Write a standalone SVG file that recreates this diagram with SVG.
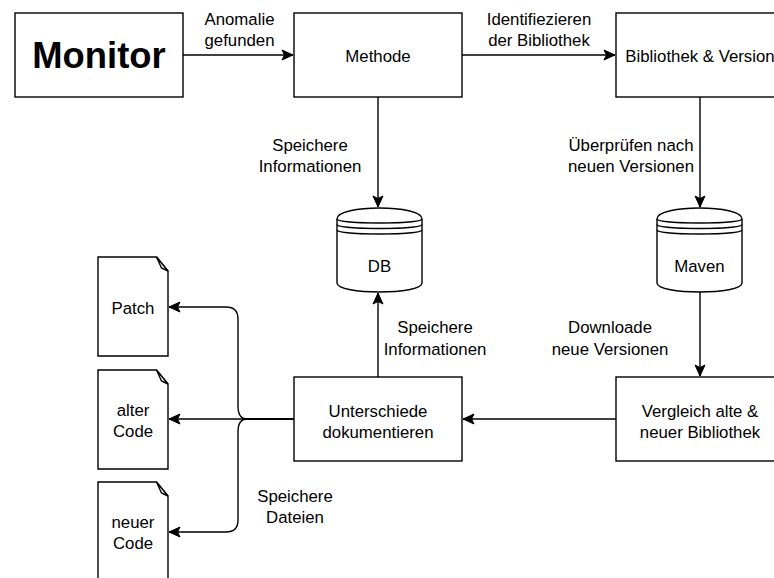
<svg xmlns="http://www.w3.org/2000/svg" width="774" height="578" viewBox="0 0 774 578">
<style>
.box{fill:#fff;stroke:#000;stroke-width:1.4}
.t{font-family:"Liberation Sans",Arial,Helvetica,sans-serif;font-size:16.8px;fill:#000;text-anchor:middle}
.big{font-family:"Liberation Sans",Arial,Helvetica,sans-serif;font-size:36.4px;font-weight:bold;fill:#000;text-anchor:middle}
.e{fill:none;stroke:#000;stroke-width:1.4}
</style>
<defs>
<marker id="arr" markerUnits="userSpaceOnUse" markerWidth="14" markerHeight="14" viewBox="-12 -7 14 14" refX="0" refY="0" orient="auto">
<path d="M0,0 L-11,-5 L-8.5,0 L-11,5 Z" fill="#000" stroke="#000" stroke-width="1"/>
</marker>
</defs>
<rect width="774" height="578" fill="#fff"/>
<g id="connectors">
<path class="e" d="M183,55 L293,55" marker-end="url(#arr)"/>
<path class="e" d="M462,55 L615,55" marker-end="url(#arr)"/>
<path class="e" d="M378,97 L378,207" marker-end="url(#arr)"/>
<path class="e" d="M700,97 L700,207" marker-end="url(#arr)"/>
<path class="e" d="M700,292 L700,376" marker-end="url(#arr)"/>
<path class="e" d="M378,377 L378,293" marker-end="url(#arr)"/>
<path class="e" d="M616,419 L463,419" marker-end="url(#arr)"/>
<path class="e" d="M294,419 L169,419" marker-end="url(#arr)"/>
<path class="e" d="M294,419 L247,419 C241,419 238,414 238,406 L238,319 Q238,307 226,307 L169,307" marker-end="url(#arr)"/>
<path class="e" d="M294,419 L247,419 C241,419 238,424 238,432 L238,520 Q238,532 226,532 L169,532" marker-end="url(#arr)"/>
<text class="t" x="239.5" y="25">Anomalie</text>
<text class="t" x="239.5" y="46">gefunden</text>
<text class="t" x="539" y="25">Identifiezieren</text>
<text class="t" x="539" y="46">der Bibliothek</text>
<text class="t" x="310" y="151">Speichere</text>
<text class="t" x="310" y="172">Informationen</text>
<text class="t" x="631" y="151">Überprüfen nach</text>
<text class="t" x="631" y="172">neuen Versionen</text>
<text class="t" x="435" y="333">Speichere</text>
<text class="t" x="435" y="355">Informationen</text>
<text class="t" x="610" y="333">Downloade</text>
<text class="t" x="610" y="355">neue Versionen</text>
<text class="t" x="295" y="502">Speichere</text>
<text class="t" x="295" y="523">Dateien</text>
</g>
<g id="monitor">
<rect class="box" x="15" y="13" width="168" height="84"/>
<text class="big" x="99" y="68">Monitor</text>
</g>
<g id="methode">
<rect class="box" x="294" y="13" width="168" height="84"/>
<text class="t" x="378" y="61.5">Methode</text>
</g>
<g id="bibliothek">
<rect class="box" x="616" y="13" width="168" height="84"/>
<text class="t" x="700" y="61.5">Bibliothek &amp; Version</text>
</g>
<g id="db">
<path class="box" d="M337,219 C337,204.3 422,204.3 422,219 L422,283 C422,295 337,295 337,283 Z"/>
<path class="e" d="M337,219 C337,224.3 422,224.3 422,219 M337,224.5 C337,229.8 422,229.8 422,224.5 M337,230 C337,235.3 422,235.3 422,230"/>
<text class="t" x="379.5" y="272">DB</text>
</g>
<g id="maven">
<path class="box" d="M657,219 C657,204.3 742,204.3 742,219 L742,283 C742,295 657,295 657,283 Z"/>
<path class="e" d="M657,219 C657,224.3 742,224.3 742,219 M657,224.5 C657,229.8 742,229.8 742,224.5 M657,230 C657,235.3 742,235.3 742,230"/>
<text class="t" x="699.5" y="272">Maven</text>
</g>
<g id="unterschiede">
<rect class="box" x="294" y="377" width="168" height="84"/>
<text class="t" x="378" y="417">Unterschiede</text>
<text class="t" x="378" y="438">dokumentieren</text>
</g>
<g id="vergleich">
<rect class="box" x="616" y="377" width="168" height="84"/>
<text class="t" x="700" y="417">Vergleich alte &amp;</text>
<text class="t" x="700" y="438">neuer Bibliothek</text>
</g>
<g id="patch">
<path class="box" d="M98,257 L156.5,257 L168,271 L168,356 L98,356 Z"/>
<path class="box" d="M156.5,257 L161.5,268 L168,271 Z"/>
<text class="t" x="133" y="313.5">Patch</text>
</g>
<g id="alter">
<path class="box" d="M98,370 L156.5,370 L168,384 L168,469 L98,469 Z"/>
<path class="box" d="M156.5,370 L161.5,381 L168,384 Z"/>
<text class="t" x="133" y="416">alter</text>
<text class="t" x="133" y="437">Code</text>
</g>
<g id="neuer">
<path class="box" d="M98,482 L156.5,482 L168,496 L168,581 L98,581 Z"/>
<path class="box" d="M156.5,482 L161.5,493 L168,496 Z"/>
<text class="t" x="133" y="528">neuer</text>
<text class="t" x="133" y="549">Code</text>
</g>
</svg>
